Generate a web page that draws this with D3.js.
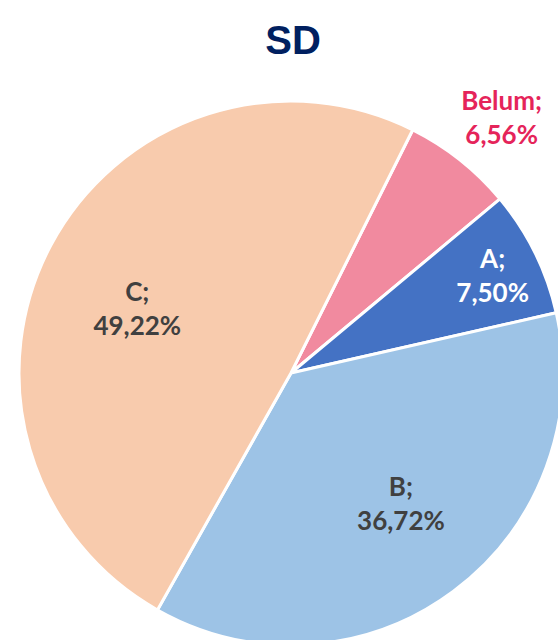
<!DOCTYPE html>
<html>
<head>
<meta charset="utf-8">
<script src="https://cdn.jsdelivr.net/npm/d3@7"></script>
<style>
  html, body { margin: 0; padding: 0; background: #fff; }
  svg { display: block; }
</style>
</head>
<body>
<div id="chart"></div>
<script>
const TITLE = 'SD';
const categories = ['Belum', 'A', 'B', 'C'];
const percents = [6.56, 7.50, 36.72, 49.22];
const sliceColors = ['#F18A9F', '#4472C4', '#9DC3E6', '#F8CBAD'];
const labelColors = ['#E5245A', '#FFFFFF', '#404040', '#404040'];
// label placement: distance from centre (fraction of radius) and angle nudge in degrees
const labelRadius = [1.22, 0.824, 0.625, 0.614];
const labelNudge = [1, 0.4, -3.6, -5];

const width = 558, height = 640;
const cx = 291, cy = 373, radius = 272;

const svg = d3.select('#chart').append('svg')
  .attr('width', width)
  .attr('height', height);

svg.append('text')
  .attr('x', 293)
  .attr('y', 54)
  .attr('text-anchor', 'middle')
  .attr('font-family', 'Liberation Sans, Arial, sans-serif')
  .attr('font-weight', 'bold')
  .attr('font-size', 40)
  .attr('fill', '#002060')
  .text(TITLE);

const data = categories.map((c, i) => ({ name: c, value: percents[i], i }));

const startAngle = 26.6 * Math.PI / 180;
const pie = d3.pie()
  .sort(null)
  .value((d) => d.value)
  .startAngle(startAngle)
  .endAngle(startAngle + 2 * Math.PI);

const arcs = pie(data);
const arc = d3.arc().innerRadius(0).outerRadius(radius);

const g = svg.append('g').attr('transform', `translate(${cx},${cy})`);

g.selectAll('path')
  .data(arcs)
  .join('path')
  .attr('d', arc)
  .attr('fill', (d) => sliceColors[d.data.i])
  .attr('stroke', '#fff')
  .attr('stroke-width', 3)
  .attr('stroke-linejoin', 'round');

const fmt = (v) => v.toFixed(2).replace('.', ',') + '%';

const labels = g.selectAll('text.lbl')
  .data(arcs)
  .join('text')
  .attr('class', 'lbl')
  .attr('transform', (d) => {
    const r = radius * labelRadius[d.data.i];
    const a = (d.startAngle + d.endAngle) / 2 + labelNudge[d.data.i] * Math.PI / 180;
    return `translate(${Math.sin(a) * r},${-Math.cos(a) * r})`;
  })
  .attr('text-anchor', 'middle')
  .attr('font-family', 'Lato, Calibri, sans-serif')
  .attr('font-weight', 'bold')
  .attr('font-size', 26)
  .attr('fill', (d) => labelColors[d.data.i]);

labels.append('tspan')
  .attr('x', 0)
  .attr('y', -7)
  .text((d) => d.data.name + ';');

labels.append('tspan')
  .attr('x', 0)
  .attr('y', 27)
  .text((d) => fmt(d.data.value));
</script>
</body>
</html>
